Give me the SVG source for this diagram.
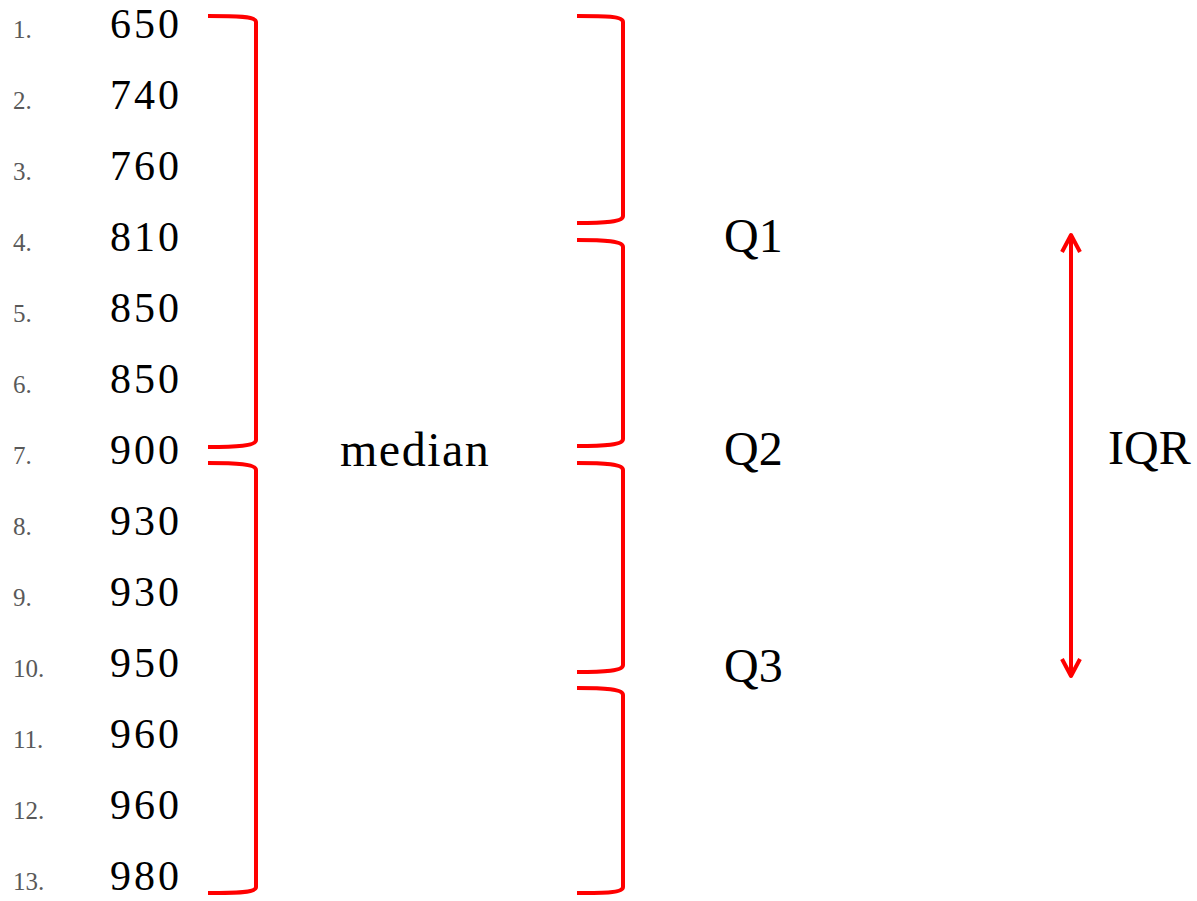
<svg xmlns="http://www.w3.org/2000/svg" width="1197" height="901" viewBox="0 0 1197 901">
<style>
.idx{font-family:"Liberation Serif","DejaVu Serif",serif;font-size:25px;fill:#595959;font-variant-numeric:oldstyle-nums}
.val{font-family:"Liberation Serif","DejaVu Serif",serif;font-size:42px;letter-spacing:3px;fill:#000;font-variant-numeric:oldstyle-nums}
.lbl{font-family:"Liberation Serif","DejaVu Serif",serif;font-size:48px;fill:#000;font-variant-numeric:oldstyle-nums}
.br{fill:none;stroke:#ff0000;stroke-width:4;stroke-linecap:butt;stroke-linejoin:round}
</style>
<rect width="1197" height="901" fill="#fff"/>
<g id="rows">
<g id="row1"><text class="idx" x="13" y="38">1.</text><text class="val" x="110" y="38">650</text></g>
<g id="row2"><text class="idx" x="13" y="109">2.</text><text class="val" x="110" y="109">740</text></g>
<g id="row3"><text class="idx" x="13" y="180">3.</text><text class="val" x="110" y="180">760</text></g>
<g id="row4"><text class="idx" x="13" y="251">4.</text><text class="val" x="110" y="251">810</text></g>
<g id="row5"><text class="idx" x="13" y="322">5.</text><text class="val" x="110" y="322">850</text></g>
<g id="row6"><text class="idx" x="13" y="393">6.</text><text class="val" x="110" y="393">850</text></g>
<g id="row7"><text class="idx" x="13" y="464">7.</text><text class="val" x="110" y="464">900</text></g>
<g id="row8"><text class="idx" x="13" y="535">8.</text><text class="val" x="110" y="535">930</text></g>
<g id="row9"><text class="idx" x="13" y="606">9.</text><text class="val" x="110" y="606">930</text></g>
<g id="row10"><text class="idx" x="13" y="677">10.</text><text class="val" x="110" y="677">950</text></g>
<g id="row11"><text class="idx" x="13" y="748">11.</text><text class="val" x="110" y="748">960</text></g>
<g id="row12"><text class="idx" x="13" y="819">12.</text><text class="val" x="110" y="819">960</text></g>
<g id="row13"><text class="idx" x="13" y="890">13.</text><text class="val" x="110" y="890">980</text></g>
</g>
<g id="labels">
<text id="median" class="lbl" x="340" y="466" letter-spacing="1.5">median</text>
<text id="q1" class="lbl" x="724" y="252">Q1</text>
<text id="q2" class="lbl" x="724" y="465">Q2</text>
<text id="q3" class="lbl" x="724" y="682">Q3</text>
<text id="iqr" class="lbl" x="1108" y="464">IQR</text>
</g>
<g id="connectors">
<path class="br" d="M208,16 C236,16 256,16 256,22 V440 C256,446 236,447 208,447"/>
<path class="br" d="M208,463 C236,463 256,464 256,470 V887 C256,893 236,893 208,893"/>
<path class="br" d="M577,16 C605,16 623,16 623,22 V216 C623,222 605,223 577,223"/>
<path class="br" d="M577,240 C605,240 623,241 623,247 V439 C623,445 605,446 577,446"/>
<path class="br" d="M577,463 C605,463 623,464 623,470 V665 C623,671 605,672 577,672"/>
<path class="br" d="M577,688 C605,688 623,689 623,695 V887 C623,893 605,893 577,893"/>
<g id="iqr-arrow">
<line class="br" x1="1071" y1="235" x2="1071" y2="676"/>
<polyline class="br" points="1062,252 1071,235 1080,252"/>
<polyline class="br" points="1062,659 1071,676 1080,659"/>
</g>
</g>
</svg>
